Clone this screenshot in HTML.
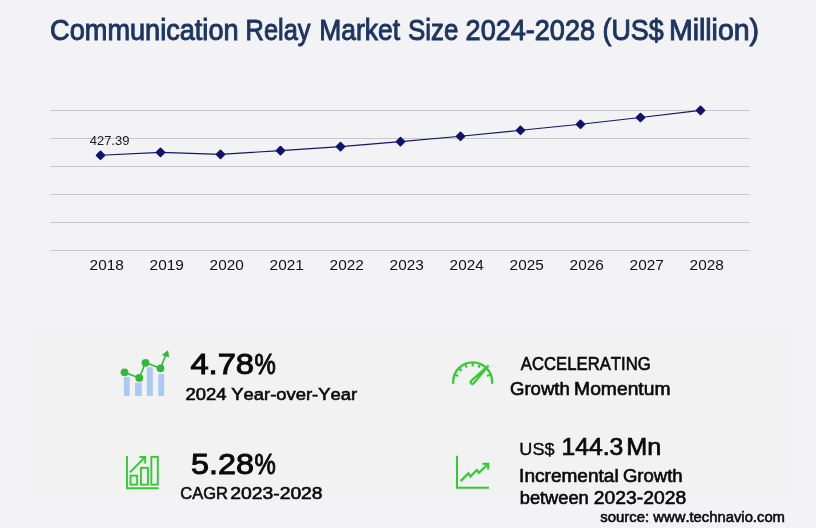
<!DOCTYPE html>
<html><head><meta charset="utf-8"><title>Communication Relay Market Size</title>
<style>
html,body{margin:0;padding:0;background:#f3f3f6;}
body{width:816px;height:528px;overflow:hidden;position:relative;font-family:"Liberation Sans",sans-serif;}
svg{position:absolute;left:0;top:0;display:block}
text{font-family:"Liberation Sans",sans-serif;font-kerning:none;white-space:pre}
.t{fill:#1c3562;stroke:#1c3562;stroke-width:0.95px}
.yr{fill:#111}
.n{fill:#1a1a1a}
.m{fill:#0a0a0a;stroke:#0a0a0a;stroke-width:0.6px}
.b{fill:#0a0a0a;stroke:#0a0a0a;stroke-width:0.7px}
.B{fill:#0a0a0a;stroke:#0a0a0a;stroke-width:1.0px}
.r{fill:#0a0a0a;stroke:#0a0a0a;stroke-width:0.35px}
</style></head><body>
<svg width="816" height="528" viewBox="0 0 816 528">
<rect x="0" y="0" width="816" height="528" fill="#f3f3f6"/>
<rect x="31" y="330" width="761" height="166" fill="#f2f2f2"/>
<path d="M36,496 L20,527 M783,496 L799,527" stroke="#f8f8fa" stroke-width="1.2" stroke-dasharray="1.2 1.2" fill="none"/>
<text class="t" y="39.9" font-size="28.9"><tspan x="50.10" textLength="188.49" lengthAdjust="spacingAndGlyphs">Communication</tspan> <tspan x="245.59" textLength="64.98" lengthAdjust="spacingAndGlyphs">Relay</tspan> <tspan x="319.31" textLength="80.81" lengthAdjust="spacingAndGlyphs">Market</tspan> <tspan x="408.00" textLength="50.38" lengthAdjust="spacingAndGlyphs">Size</tspan> <tspan x="465.61" textLength="129.39" lengthAdjust="spacingAndGlyphs">2024-2028</tspan> <tspan x="602.51" textLength="61.15" lengthAdjust="spacingAndGlyphs">(US$</tspan> <tspan x="668.94" textLength="90.15" lengthAdjust="spacingAndGlyphs">Million)</tspan></text>
<rect x="50" y="110" width="700" height="1" fill="#c9c9cb"/>
<rect x="50" y="138" width="700" height="1" fill="#c9c9cb"/>
<rect x="50" y="166" width="700" height="1" fill="#c9c9cb"/>
<rect x="50" y="194" width="700" height="1" fill="#c9c9cb"/>
<rect x="50" y="222" width="700" height="1" fill="#c9c9cb"/>
<rect x="50" y="250" width="700" height="1" fill="#c9c9cb"/>
<polyline points="100.5,155.3 160.5,152.4 220.5,154.4 280.5,150.6 340.5,146.6 400.5,141.6 460.5,136.3 520.5,130.3 580.5,124.3 640.5,117.5 700.5,110.4" fill="none" stroke="#14146e" stroke-width="1.15"/>
<path d="M96.6,155.3 L100.5,151.4 L104.4,155.3 L100.5,159.20000000000002 Z" fill="#12126e" stroke="#12126e" stroke-width="1.8" stroke-linejoin="round"/>
<path d="M156.6,152.4 L160.5,148.5 L164.4,152.4 L160.5,156.3 Z" fill="#12126e" stroke="#12126e" stroke-width="1.8" stroke-linejoin="round"/>
<path d="M216.6,154.4 L220.5,150.5 L224.4,154.4 L220.5,158.3 Z" fill="#12126e" stroke="#12126e" stroke-width="1.8" stroke-linejoin="round"/>
<path d="M276.6,150.6 L280.5,146.7 L284.4,150.6 L280.5,154.5 Z" fill="#12126e" stroke="#12126e" stroke-width="1.8" stroke-linejoin="round"/>
<path d="M336.6,146.6 L340.5,142.7 L344.4,146.6 L340.5,150.5 Z" fill="#12126e" stroke="#12126e" stroke-width="1.8" stroke-linejoin="round"/>
<path d="M396.6,141.6 L400.5,137.7 L404.4,141.6 L400.5,145.5 Z" fill="#12126e" stroke="#12126e" stroke-width="1.8" stroke-linejoin="round"/>
<path d="M456.6,136.3 L460.5,132.4 L464.4,136.3 L460.5,140.20000000000002 Z" fill="#12126e" stroke="#12126e" stroke-width="1.8" stroke-linejoin="round"/>
<path d="M516.6,130.3 L520.5,126.4 L524.4,130.3 L520.5,134.20000000000002 Z" fill="#12126e" stroke="#12126e" stroke-width="1.8" stroke-linejoin="round"/>
<path d="M576.6,124.3 L580.5,120.39999999999999 L584.4,124.3 L580.5,128.2 Z" fill="#12126e" stroke="#12126e" stroke-width="1.8" stroke-linejoin="round"/>
<path d="M636.6,117.5 L640.5,113.6 L644.4,117.5 L640.5,121.4 Z" fill="#12126e" stroke="#12126e" stroke-width="1.8" stroke-linejoin="round"/>
<path d="M696.6,110.4 L700.5,106.5 L704.4,110.4 L700.5,114.30000000000001 Z" fill="#12126e" stroke="#12126e" stroke-width="1.8" stroke-linejoin="round"/>
<text class="n" y="144.9" font-size="13.3"><tspan x="89.70" textLength="39.71" lengthAdjust="spacingAndGlyphs">427.39</tspan></text>
<text class="yr" y="270" font-size="14.8"><tspan x="89.63" textLength="34.24" lengthAdjust="spacingAndGlyphs">2018</tspan></text>
<text class="yr" y="270" font-size="14.8"><tspan x="149.62" textLength="34.31" lengthAdjust="spacingAndGlyphs">2019</tspan></text>
<text class="yr" y="270" font-size="14.8"><tspan x="209.63" textLength="34.17" lengthAdjust="spacingAndGlyphs">2020</tspan></text>
<text class="yr" y="270" font-size="14.8"><tspan x="269.62" textLength="34.33" lengthAdjust="spacingAndGlyphs">2021</tspan></text>
<text class="yr" y="270" font-size="14.8"><tspan x="329.62" textLength="34.35" lengthAdjust="spacingAndGlyphs">2022</tspan></text>
<text class="yr" y="270" font-size="14.8"><tspan x="389.63" textLength="34.25" lengthAdjust="spacingAndGlyphs">2023</tspan></text>
<text class="yr" y="270" font-size="14.8"><tspan x="449.63" textLength="34.02" lengthAdjust="spacingAndGlyphs">2024</tspan></text>
<text class="yr" y="270" font-size="14.8"><tspan x="509.63" textLength="34.22" lengthAdjust="spacingAndGlyphs">2025</tspan></text>
<text class="yr" y="270" font-size="14.8"><tspan x="569.63" textLength="34.25" lengthAdjust="spacingAndGlyphs">2026</tspan></text>
<text class="yr" y="270" font-size="14.8"><tspan x="629.62" textLength="34.35" lengthAdjust="spacingAndGlyphs">2027</tspan></text>
<text class="yr" y="270" font-size="14.8"><tspan x="689.63" textLength="34.24" lengthAdjust="spacingAndGlyphs">2028</tspan></text>
<text class="B" y="374.3" font-size="29.5"><tspan x="190.45" textLength="63.57" lengthAdjust="spacingAndGlyphs">4.78</tspan> <tspan x="254.45" textLength="21.31" lengthAdjust="spacingAndGlyphs">%</tspan></text>
<text class="m" y="399.5" font-size="16.8"><tspan x="185.57" textLength="40.97" lengthAdjust="spacingAndGlyphs">2024</tspan> <tspan x="231.30" textLength="125.81" lengthAdjust="spacingAndGlyphs">Year-over-Year</tspan></text>
<text class="B" y="474.3" font-size="29.5"><tspan x="191.11" textLength="62.90" lengthAdjust="spacingAndGlyphs">5.28</tspan> <tspan x="254.45" textLength="21.31" lengthAdjust="spacingAndGlyphs">%</tspan></text>
<text class="m" y="499.35" font-size="17"><tspan x="180.37" textLength="47.50" lengthAdjust="spacingAndGlyphs">CAGR</tspan> <tspan x="230.23" textLength="92.41" lengthAdjust="spacingAndGlyphs">2023-2028</tspan></text>
<text class="m" y="369.8" font-size="17.7"><tspan x="520.87" textLength="129.83" lengthAdjust="spacingAndGlyphs">ACCELERATING</tspan></text>
<text class="m" y="395.0" font-size="17.8"><tspan x="509.97" textLength="59.84" lengthAdjust="spacingAndGlyphs">Growth</tspan> <tspan x="574.12" textLength="96.35" lengthAdjust="spacingAndGlyphs">Momentum</tspan></text>
<text class="m" y="454.8" font-size="17"><tspan x="519.38" textLength="35.13" lengthAdjust="spacingAndGlyphs" class="r">US$</tspan> <tspan x="561.47" textLength="61.76" lengthAdjust="spacingAndGlyphs" class="b" font-size="23">144.3</tspan> <tspan x="626.28" textLength="35.00" lengthAdjust="spacingAndGlyphs" class="b" font-size="23">Mn</tspan></text>
<text class="m" y="481.8" font-size="17.6"><tspan x="519.14" textLength="99.53" lengthAdjust="spacingAndGlyphs">Incremental</tspan> <tspan x="622.97" textLength="59.63" lengthAdjust="spacingAndGlyphs">Growth</tspan></text>
<text class="m" y="503.5" font-size="17.6"><tspan x="519.72" textLength="69.06" lengthAdjust="spacingAndGlyphs">between</tspan> <tspan x="593.83" textLength="92.31" lengthAdjust="spacingAndGlyphs">2023-2028</tspan></text>
<text class="m" y="521.9" font-size="15.3"><tspan x="600.19" textLength="48.88" lengthAdjust="spacingAndGlyphs">source:</tspan> <tspan x="653.32" textLength="131.65" lengthAdjust="spacingAndGlyphs">www.technavio.com</tspan></text>
<rect x="123.9" y="376.9" width="5.8" height="19.1" rx="1" fill="#a9c9f4"/>
<rect x="135" y="382.8" width="6.8" height="13.2" rx="1" fill="#a9c9f4"/>
<rect x="146.9" y="367.3" width="5.9" height="28.7" rx="1" fill="#a9c9f4"/>
<rect x="158.3" y="374.1" width="5.9" height="21.9" rx="1" fill="#a9c9f4"/>
<polyline points="124.5,372.3 139.3,377.9 145.5,362.8 160.5,368.3 166.3,353.5" fill="none" stroke="#2fba3c" stroke-width="1.6" stroke-linejoin="round"/>
<circle cx="124.5" cy="372.3" r="3.9" fill="#2fba3c"/>
<circle cx="139.3" cy="377.9" r="3.9" fill="#2fba3c"/>
<circle cx="145.5" cy="362.8" r="3.9" fill="#2fba3c"/>
<circle cx="160.5" cy="368.3" r="3.9" fill="#2fba3c"/>
<path d="M167.7,350.7 L162.5,354.9 L168.9,356.9 Z" fill="#2fba3c" stroke="#2fba3c" stroke-width="0.7" stroke-linejoin="round"/>
<g fill="none" stroke="#32cb32" stroke-width="1.9"><path d="M127,455.9 V488.2 H158.75"/><rect x="130.55" y="475.65" width="6.6" height="9"/><rect x="140.95" y="467.85" width="7" height="16.8"/><rect x="151.35" y="456.85" width="6.45" height="27.8"/><path d="M129.9,472.3 L145.2,457 M139.5,457 H145.2 V463.5"/></g>
<g fill="none" stroke="#32cb32" stroke-width="2.3"><path d="M453.15,383.75 V381.9 A19.5,19.5 0 0 1 492.15,381.9 V383.75"/></g><g fill="none" stroke="#32cb32" stroke-width="2.1"><path d="M455.10,374.63 L458.33,375.97"/><path d="M459.21,368.46 L461.69,370.94"/><path d="M465.38,364.35 L466.72,367.58"/><path d="M472.65,362.90 L472.65,366.40"/><path d="M479.92,364.35 L478.58,367.58"/><path d="M490.20,374.63 L486.97,375.97"/></g>
<path d="M487.75,364.97 L470.53,380.29 A2.6,2.6 0 0 0 474.27,383.91 L489.05,366.23 Z" fill="#32cb32" stroke="#32cb32" stroke-width="0.6" stroke-linejoin="round"/>
<path d="M471.9,381.61 L478.8,375.8 L472.9,382.59 A0.7,0.7 0 0 1 471.9,381.61 Z" fill="#f2f2f2"/>
<g fill="none" stroke="#32cb32" stroke-width="2"><path d="M457,455.7 V487.8 H489"/><path stroke-width="2.2" d="M460.6,481.1 L468.4,473.3 L470.5,476.5 L476.8,470 L478.9,472.9 L488.2,463.75"/><path stroke-width="2.2" d="M482.3,463.75 H488.2 V469.5"/></g>
</svg></body></html>
